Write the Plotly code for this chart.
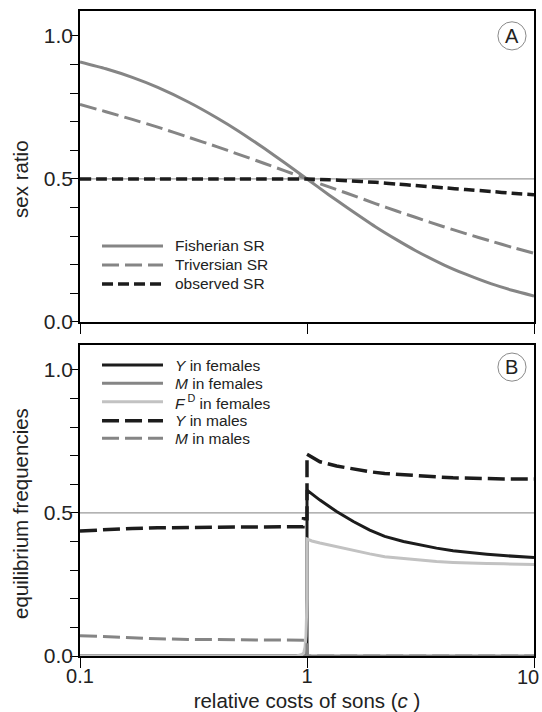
import plotly.graph_objects as go
from plotly.subplots import make_subplots

# ---------------- data ----------------
# relative costs of sons (c) for panel A
c_a = [0.1, 0.13, 0.17, 0.22, 0.3, 0.4, 0.5, 0.65, 0.8, 1.0,
       1.25, 1.5, 2, 2.5, 3, 4, 5, 6.5, 8, 10]
fisherian_sr = [0.909, 0.885, 0.855, 0.820, 0.769, 0.714, 0.667, 0.606, 0.556, 0.500,
                0.444, 0.400, 0.333, 0.286, 0.250, 0.200, 0.167, 0.133, 0.111, 0.091]
triversian_sr = [0.760, 0.735, 0.708, 0.681, 0.646, 0.613, 0.586, 0.554, 0.528, 0.500,
                 0.472, 0.450, 0.414, 0.387, 0.366, 0.333, 0.309, 0.282, 0.261, 0.240]
observed_sr = [0.500, 0.500, 0.500, 0.500, 0.500, 0.500, 0.500, 0.500, 0.500, 0.500,
               0.497, 0.494, 0.488, 0.482, 0.477, 0.469, 0.463, 0.456, 0.450, 0.445]

# relative costs of sons (c) for panel B (repeated 1.0 marks the jump)
c_b = [0.1, 0.13, 0.17, 0.22, 0.3, 0.4, 0.5, 0.65, 0.8, 0.9, 0.95, 0.96, 0.965, 0.97,
       0.98, 0.99, 1.0, 1.0, 1.05, 1.14, 1.35, 1.6, 1.89, 2.2, 2.66, 3.2, 3.72,
       4.4, 5.23, 6.2, 7.34, 8.6, 10]
y_females = [0, 0, 0, 0, 0, 0, 0, 0, 0, 0, 0, 0, 0, 0,
             0, 0, 0, 0.580, 0.566, 0.545, 0.505, 0.470, 0.440, 0.418, 0.400, 0.387, 0.377,
             0.368, 0.361, 0.356, 0.351, 0.347, 0.344]
m_females = [0] * len(c_b)
fd_females = [0, 0, 0, 0, 0, 0, 0, 0, 0, 0, 0.005, 0.008, 0.010, 0.015,
              0.030, 0.070, 0.200, 0.409, 0.402, 0.395, 0.382, 0.368, 0.357, 0.347, 0.340, 0.334, 0.330,
              0.327, 0.324, 0.323, 0.322, 0.321, 0.320]
y_males = [0.437, 0.442, 0.446, 0.448, 0.450, 0.451, 0.451, 0.451, 0.451, 0.452, 0.452, 0.452, 0.480, 0.480,
           0.480, 0.480, 0.480, 0.705, 0.695, 0.679, 0.664, 0.653, 0.644, 0.638, 0.633, 0.629, 0.626,
           0.623, 0.621, 0.620, 0.619, 0.619, 0.619]
m_males = [0.071, 0.067, 0.063, 0.060, 0.058, 0.057, 0.056, 0.055, 0.055, 0.055, 0.055, 0.055, 0.055, 0.055,
           0.055, 0.055, 0.055, 0, 0, 0, 0, 0, 0, 0, 0, 0, 0,
           0, 0, 0, 0, 0, 0]

x_tick_vals = [0.1, 1, 10]
x_tick_text = ["0.1", "1", "10"]
y_tick_vals = [0.0, 0.5, 1.0]
y_tick_text = ["0.0", "0.5", "1.0"]
y_minor_vals = [0.1, 0.2, 0.3, 0.4, 0.6, 0.7, 0.8, 0.9]

# ---------------- styles ----------------
BLACK = "#1c1c1c"
GRAY = "#858585"
LIGHT = "#c2c2c2"
TEXT = "#222"
FONT = "Liberation Sans, Arial, sans-serif"

series_a = [
    ("Fisherian SR", fisherian_sr, GRAY, "solid", 3),
    ("Triversian SR", triversian_sr, GRAY, "17px,6px", 3),
    ("observed SR", observed_sr, BLACK, "11px,5px", 3.5),
]
series_b = [
    ("<i>Y</i> in females", y_females, BLACK, "solid", 3),
    ("<i>M</i> in females", m_females, GRAY, "solid", 3),
    ("<i>F</i><sup> D</sup> in females", fd_females, LIGHT, "solid", 3),
    ("<i>Y</i> in males", y_males, BLACK, "17px,6px", 3.5),
    ("<i>M</i> in males", m_males, GRAY, "17px,6px", 3),
]

fig = make_subplots(rows=2, cols=1, vertical_spacing=0.0357)

for name, vals, col, dash, w in series_a:
    fig.add_trace(go.Scatter(x=c_a, y=vals, mode="lines", name=name, showlegend=False,
                             line=dict(color=col, dash=dash, width=w, shape="spline",
                                       smoothing=0.6)), row=1, col=1)
for name, vals, col, dash, w in series_b:
    fig.add_trace(go.Scatter(x=c_b, y=vals, mode="lines", name=name, showlegend=False,
                             line=dict(color=col, dash=dash, width=w)), row=2, col=1)

# reference line at one half
for yr, xr in (("y", "x domain"), ("y2", "x2 domain")):
    fig.add_shape(type="line", xref=xr, yref=yr, x0=0, x1=1, y0=0.5, y1=0.5,
                  line=dict(color="#9a9a9a", width=1.2), layer="below")

# hand-drawn legends
def add_key(series, xr, yr, rows):
    for (name, _, col, dash, w), yy in zip(series, rows):
        fig.add_shape(type="line", xref=xr, yref=yr, x0=0.0485, x1=0.1828, y0=yy, y1=yy,
                      line=dict(color=col, dash=dash, width=w))
        fig.add_annotation(xref=xr, yref=yr, x=0.2048, y=yy, text=name, showarrow=False,
                           xanchor="left", yanchor="middle",
                           font=dict(family=FONT, size=15.5, color=TEXT))

add_key(series_a, "x domain", "y domain", [0.2444, 0.1833, 0.1222])
add_key(series_b, "x2 domain", "y2 domain", [0.9357, 0.8768, 0.8177, 0.7566, 0.7000])

# panel letters
for letter, xr, yr, cy in (("A", "x domain", "y domain", 0.920), ("B", "x2 domain", "y2 domain", 0.929)):
    fig.add_shape(type="circle", xref=xr, yref=yr, x0=0.9515 - 0.031, x1=0.9515 + 0.031,
                  y0=cy - 0.0453, y1=cy + 0.0453, line=dict(color="#8a8a8a", width=1))
    fig.add_annotation(xref=xr, yref=yr, x=0.9515, y=cy, text=letter, showarrow=False,
                       xanchor="center", yanchor="middle",
                       font=dict(family=FONT, size=20, color=TEXT))

# y-axis titles, centred on the 0–1 span
for title, xr, yr in (("sex ratio", "x domain", "y"),
                      ("equilibrium frequencies", "x2 domain", "y2")):
    fig.add_annotation(xref=xr, yref=yr, x=-0.13, y=0.5, text=title, showarrow=False,
                       textangle=-90, xanchor="center", yanchor="middle",
                       font=dict(family=FONT, size=20.5, color=TEXT))

# the last x label sits flush with the right edge of the page
fig.add_annotation(xref="x2", yref="y2 domain", x=1, y=0, text=x_tick_text[-1],
                   showarrow=False, xanchor="right", yanchor="middle",
                   xshift=7, yshift=-21,
                   font=dict(family=FONT, size=20, color=TEXT))

axis_common = dict(showline=True, linecolor="black", linewidth=1.5, mirror=True,
                   ticks="outside", tickcolor="black", tickwidth=1.3,
                   showgrid=False, zeroline=False, automargin=False)

for r in (1, 2):
    fig.update_xaxes(type="log", range=[-1, 1], tickvals=x_tick_vals[:-1],
                     ticktext=x_tick_text[:-1],
                     minor=dict(tickvals=x_tick_vals[-1:], ticks="outside", ticklen=10,
                                tickwidth=1.3, tickcolor="black", showgrid=False),
                     ticklen=10, showticklabels=(r == 2),
                     ticklabelstandoff=-9, tickfont=dict(family=FONT, size=20, color=TEXT),
                     row=r, col=1, **axis_common)
    fig.update_yaxes(range=[0, 1.087], tickvals=y_tick_vals, ticktext=y_tick_text,
                     minor=dict(tickvals=y_minor_vals, ticks="outside", ticklen=8,
                                tickwidth=1.3, tickcolor="black", showgrid=False),
                     ticklen=8, ticklabelstandoff=-7,
                     tickfont=dict(family=FONT, size=21, color=TEXT),
                     row=r, col=1, **axis_common)

fig.update_xaxes(title=dict(text="relative costs of sons (<i>c</i> )", standoff=10,
                            font=dict(family=FONT, size=20.5, color=TEXT)), row=2, col=1)

fig.update_layout(width=542, height=712, margin=dict(l=80, r=8, t=11, b=56),
                  plot_bgcolor="white", paper_bgcolor="white", showlegend=False,
                  font=dict(family=FONT, color=TEXT))

fig.write_html("out.html")
